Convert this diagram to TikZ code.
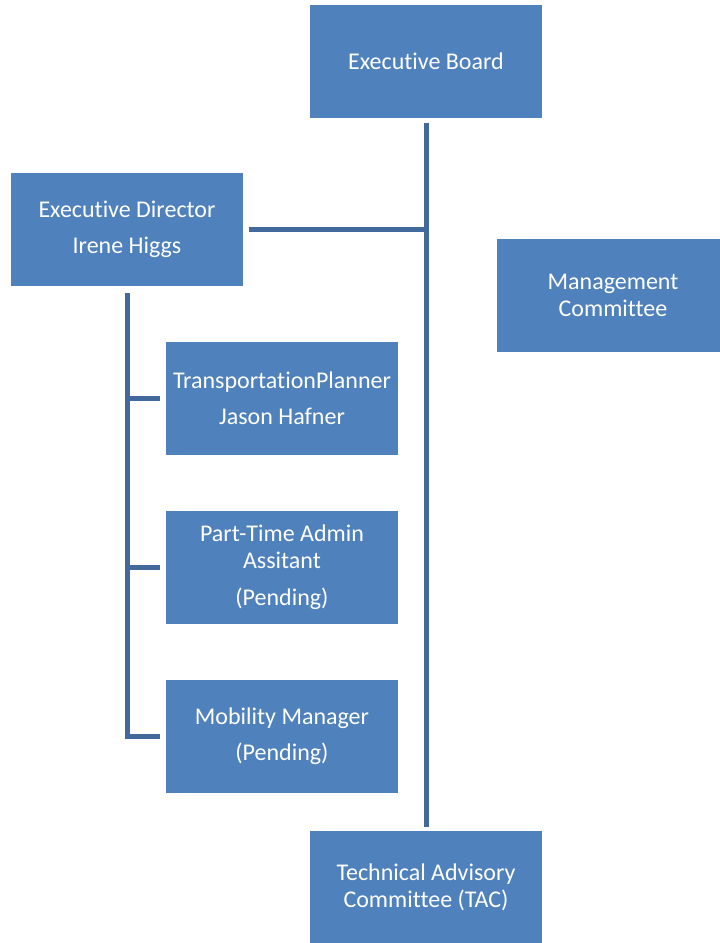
\documentclass[tikz,border=0pt]{standalone}
\usepackage{fontspec}
\setmainfont[Ligatures=NoCommon]{Carlito}
\usetikzlibrary{calc}

\definecolor{boxblue}{HTML}{4F81BD}
\definecolor{lineblue}{HTML}{41699B}

\begin{document}
\begin{tikzpicture}[x=1pt,y=-1pt]
  \def\XTRUNK{426}
  \def\XLEFT{127}
  \def\XSTAFF{282}
  \def\GAP{5}

  \tikzset{
      post/.style={fill=boxblue,text=white,minimum width=232pt,
        minimum height=113pt,inner sep=0pt,align=center,
        font=\fontsize{24}{27}\selectfont},
      link/.style={draw=lineblue,line width=5pt},
  }

  \useasboundingbox (0,0) rectangle (720,943);

  \node [post] (board) at (\XTRUNK,61.5) {Executive Board};
  \node [post] (director) at (\XLEFT,229.5)
    {Executive Director\\[9pt]Irene Higgs};
  \node [post] (mgmt) at (613,295.5) {Management\\Committee};
  \node [post] (planner) at (\XSTAFF,398.5)
    {TransportationPlanner\\[9pt]Jason Hafner};
  \node [post] (admin) at (\XSTAFF,567.5)
    {Part-Time Admin\\Assitant\\[10pt](Pending)};
  \node [post] (mobility) at (\XSTAFF,736.5)
    {Mobility Manager\\[9pt](Pending)};
  \node [post] (tac) at (\XTRUNK,887.5) {Technical Advisory\\Committee (TAC)};

  % trunk from the board down to the TAC
  \draw [link] ($(board.south)+(0,\GAP)$) -- ($(tac.north)+(0,-4)$);
  \draw [link] ($(director.east)+(6,0)$) -- (director.east -| board.south);

  % staff under the director
  \draw [link] ($(director.south)+(0,7)$) |- ($(mobility.west)+(-6,0)$);
  \draw [link] (director.south |- planner.west) -- ($(planner.west)+(-6,0)$);
  \draw [link] (director.south |- admin.west) -- ($(admin.west)+(-6,0)$);
\end{tikzpicture}
\end{document}
